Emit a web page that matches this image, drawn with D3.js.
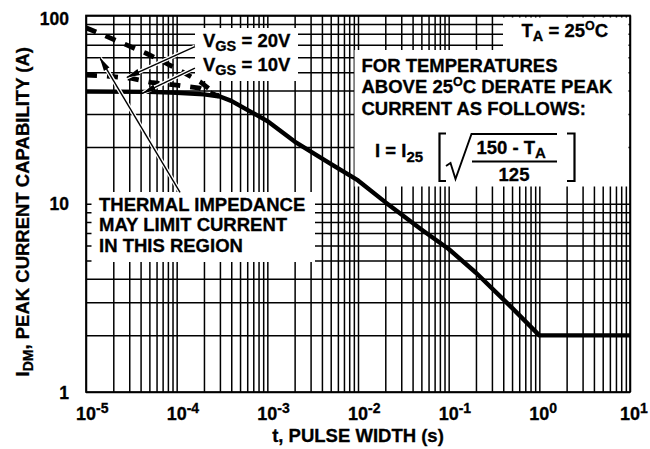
<!DOCTYPE html>
<html>
<head>
<meta charset="utf-8">
<script src="https://cdn.jsdelivr.net/npm/d3@7"></script>
<style>
  html, body { margin: 0; padding: 0; background: #fff; }
  svg text { font-family: "Liberation Sans", Arial, Helvetica, sans-serif; font-weight: bold; fill: #000; stroke: #000; stroke-width: 0.3; }
  .grid line { stroke: #000; stroke-width: 1.5; }
</style>
</head>
<body>
<svg id="chart" width="650" height="449"></svg>
<script>
// Peak current capability (A) versus pulse width (s), T_A = 25 C
const pulseWidth  = [1e-5, 5e-5, 1e-4, 2e-4, 3e-4, 4e-4, 1e-3, 2e-3, 5e-3, 1e-2, 2e-2, 5e-2, 1e-1, 2e-1, 5e-1, 1, 10];
const peakCurrent = [39.5, 39.3, 38.9, 38.1, 37.1, 35.2, 27.5, 21.4, 16.3, 13.3, 10.2, 7.3, 5.75, 4.3, 2.8, 2.0, 2.0];

// Upper dashed limit (thermal impedance region)
const upperPulse   = [1e-5, 1.58e-5, 2.76e-5, 4.6e-5, 7.8e-5, 1.17e-4, 1.81e-4, 2.9e-4];
const upperCurrent = [86, 78.5, 70, 63, 55.5, 50, 44.5, 37.3];

// Lower dashed limit
const lowerPulse   = [1e-5, 1.7e-5, 3.2e-5, 5.2e-5, 1e-4, 1.8e-4, 2.9e-4];
const lowerCurrent = [48.3, 47.7, 46.3, 44.1, 42.7, 41.1, 37.3];

// Axis ticks
const xTickExponents = [-5, -4, -3, -2, -1, 0, 1];
const yTickLabels = [1, 10, 100];

const X0 = 86, X1 = 630, Y0 = 15.5, Y1 = 392;
const x = d3.scaleLog().domain([1e-5, 10]).range([X0, X1]);
const y = d3.scaleLog().domain([1, 100]).range([Y1, Y0]);

const svg = d3.select("#chart");

// grid values: every 1..9 step of each decade
const xGrid = [];
for (let e = -5; e < 1; e++) for (let k = 1; k < 10; k++) xGrid.push(k * Math.pow(10, e));
xGrid.push(10);
const yGrid = [];
for (let e = 0; e < 2; e++) for (let k = 1; k < 10; k++) yGrid.push(k * Math.pow(10, e));
yGrid.push(100);

svg.append("g").attr("class", "grid")
  .attr("transform", `translate(0,${Y1})`)
  .call(d3.axisBottom(x).tickValues(xGrid).tickSize(-(Y1 - Y0)).tickFormat(""))
  .call(g => g.select(".domain").remove());
svg.append("g").attr("class", "grid")
  .attr("transform", `translate(${X0},0)`)
  .call(d3.axisLeft(y).tickValues(yGrid).tickSize(-(X1 - X0)).tickFormat(""))
  .call(g => g.select(".domain").remove());

// white panels behind annotation text
const panels = [
  [195, 28, 103, 53],     // V_GS labels
  [91.5, 192, 223.5, 70], // thermal impedance note
  [354.5, 50, 274, 136.5],// derating note
  [503, 17.5, 125.5, 33]  // T_A
];
svg.append("g").selectAll("rect").data(panels).join("rect")
  .attr("x", d => d[0]).attr("y", d => d[1]).attr("width", d => d[2]).attr("height", d => d[3])
  .attr("fill", "#fff");

// plot frame
svg.append("rect").attr("x", X0).attr("y", Y0).attr("width", X1 - X0).attr("height", Y1 - Y0)
  .attr("fill", "none").attr("stroke", "#000").attr("stroke-width", 1.7);

// curves
svg.append("clipPath").attr("id", "plotClip").append("rect")
  .attr("x", X0).attr("y", Y0).attr("width", X1 - X0).attr("height", Y1 - Y0);
const line = d3.line().x(d => x(d[0])).y(d => y(d[1]));
const curves = svg.append("g").attr("clip-path", "url(#plotClip)");
curves.append("path").datum(d3.zip(upperPulse, upperCurrent)).attr("d", line)
  .attr("fill", "none").attr("stroke", "#000").attr("stroke-width", 4.8).attr("stroke-dasharray", "11,10");
curves.append("path").datum(d3.zip(lowerPulse, lowerCurrent)).attr("d", line)
  .attr("fill", "none").attr("stroke", "#000").attr("stroke-width", 4.8).attr("stroke-dasharray", "11,10");
curves.append("path").datum(d3.zip(pulseWidth, peakCurrent)).attr("d", line)
  .attr("fill", "none").attr("stroke", "#000").attr("stroke-width", 4.4).attr("stroke-linejoin", "round");

// arrows (tail -> tip, in data coordinates)
const arrows = [
  [[1.59e-4, 68.4], [2.83e-5, 46.9]],
  [[1.59e-4, 52.6], [4.25e-5, 38.7]],
  [[1.09e-4, 11.5], [1.43e-5, 59.4]]
];
svg.append("defs").append("marker").attr("id", "head")
  .attr("markerUnits", "userSpaceOnUse").attr("viewBox", "0 -4 14 8")
  .attr("markerWidth", 14).attr("markerHeight", 8).attr("refX", 13).attr("refY", 0)
  .attr("orient", "auto")
  .append("path").attr("d", "M0,-3.2L14,0L0,3.2Z").attr("fill", "#000");
const ag = svg.append("g");
ag.selectAll("line.halo").data(arrows).join("line").attr("class", "halo")
  .attr("x1", d => x(d[0][0])).attr("y1", d => y(d[0][1]))
  .attr("x2", d => x(d[1][0])).attr("y2", d => y(d[1][1]))
  .attr("stroke", "#fff").attr("stroke-width", 4);
ag.selectAll("line.arrow").data(arrows).join("line").attr("class", "arrow")
  .attr("x1", d => x(d[0][0])).attr("y1", d => y(d[0][1]))
  .attr("x2", d => x(d[1][0])).attr("y2", d => y(d[1][1]))
  .attr("stroke", "#000").attr("stroke-width", 1.4).attr("marker-end", "url(#head)");

// axis labels
svg.append("g").selectAll("text").data(yTickLabels).join("text")
  .attr("x", 69).attr("y", d => Math.max(y(d) + 6.5, 25))
  .attr("text-anchor", "end").attr("font-size", 17.5).text(d => d);

const xl = svg.append("g");
xTickExponents.forEach(e => {
  const cx = x(Math.pow(10, e));
  const base = xl.append("text").attr("x", cx).attr("y", 419.5).attr("text-anchor", "middle")
    .attr("font-size", 18).text("10");
  const w = base.node().getComputedTextLength();
  xl.append("text").attr("x", cx + w / 2).attr("y", 413).attr("font-size", 14).text(String(e));
});

svg.append("text").attr("x", (X0 + X1) / 2).attr("y", 442).attr("text-anchor", "middle")
  .attr("font-size", 18.5).text("t, PULSE WIDTH (s)");

const yl = svg.append("text").attr("transform", `translate(29,${(Y0 + Y1) / 2 + 8}) rotate(-90)`)
  .attr("text-anchor", "middle").attr("font-size", 18.5);
yl.append("tspan").text("I");
yl.append("tspan").attr("font-size", 14).attr("dy", 4).text("DM");
yl.append("tspan").attr("dy", -4).text(", PEAK CURRENT CAPABILITY (A)");

// helper for text runs with sub/superscripts
function rich(x0, y0, parts, size) {
  const t = svg.append("text").attr("x", x0).attr("y", y0).attr("font-size", size);
  let shift = 0;
  parts.forEach(p => {
    const s = p.shift || 0;
    t.append("tspan").attr("dy", s - shift).attr("font-size", p.size || size).text(p.t);
    shift = s;
  });
  return t;
}

rich(203, 46.5, [{t: "V"}, {t: "GS", size: 14.5, shift: 4}, {t: " = 20V"}], 18.5);
rich(203, 70.5, [{t: "V"}, {t: "GS", size: 14.5, shift: 4}, {t: " = 10V"}], 18.5);

["THERMAL IMPEDANCE", "MAY LIMIT CURRENT", "IN THIS REGION"].forEach((s, i) =>
  svg.append("text").attr("x", 99).attr("y", 210.5 + i * 20.5).attr("font-size", 18.5).text(s));

rich(521.5, 37, [{t: "T"}, {t: "A", size: 14.5, shift: 4}, {t: " = 25"}, {t: "O", size: 12.5, shift: -7}, {t: "C"}], 18.5);

rich(361.5, 71.5, [{t: "FOR TEMPERATURES"}], 18.5);
rich(361.5, 93, [{t: "ABOVE 25"}, {t: "O", size: 12.5, shift: -7}, {t: "C DERATE PEAK"}], 18.5);
rich(361.5, 114.5, [{t: "CURRENT AS FOLLOWS:"}], 18.5);

// derating formula
rich(375, 157, [{t: "I = I"}, {t: "25", size: 15, shift: 5}], 18.5);
rich(476.5, 154, [{t: "150 - T"}, {t: "A", size: 15, shift: 4}], 18.5);
svg.append("text").attr("x", 514).attr("y", 180.5).attr("text-anchor", "middle").attr("font-size", 18.5).text("125");
const fp = svg.append("g").attr("fill", "none").attr("stroke", "#000");
fp.append("path").attr("d", "M446,133.5H439.5V181H446").attr("stroke-width", 2.2);
fp.append("path").attr("d", "M567,133.5H574.5V181H567").attr("stroke-width", 2.2);
fp.append("path").attr("d", "M446,166L450.5,163L455.5,179L471.5,134H557").attr("stroke-width", 1.9);
fp.append("path").attr("d", "M472,161.5H557").attr("stroke-width", 1.9);
</script>
</body>
</html>
